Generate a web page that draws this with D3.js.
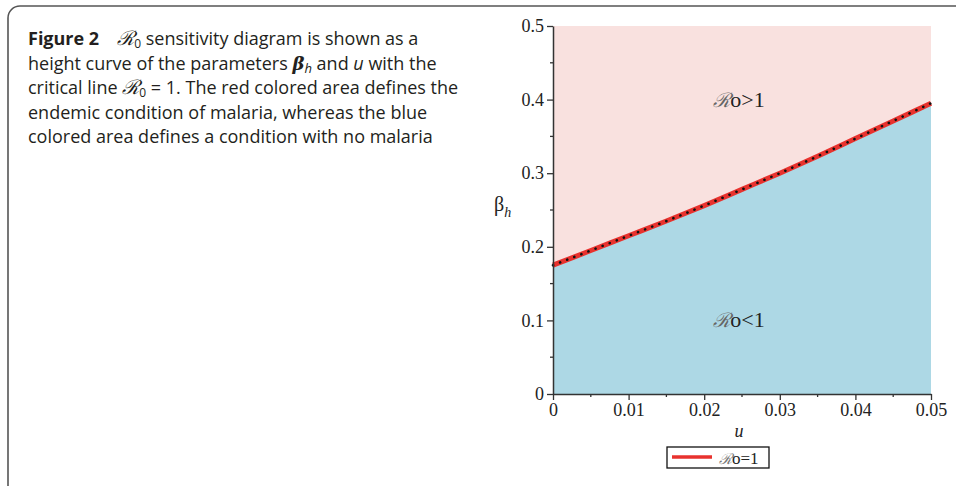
<!DOCTYPE html>
<html>
<head>
<meta charset="utf-8">
<script src="https://cdn.jsdelivr.net/npm/d3@7"></script>
<style>
  html, body { margin: 0; padding: 0; background: #fff; }
  svg { display: block; }
</style>
</head>
<body>
<svg id="fig" width="956" height="486"></svg>
<script>
// Critical curve R0 = 1: beta_h as a function of u
const uValues    = [0, 0.005, 0.01, 0.015, 0.02, 0.025, 0.03, 0.035, 0.04, 0.045, 0.05];
const betaValues = [0.175, 0.195, 0.215, 0.235, 0.256, 0.278, 0.300, 0.323, 0.347, 0.371, 0.395];
const xTicks = [0, 0.01, 0.02, 0.03, 0.04, 0.05];
const yTicks = [0, 0.1, 0.2, 0.3, 0.4, 0.5];
const xMinor = [0.005, 0.015, 0.025, 0.035, 0.045];
const yMinor = [0.05, 0.15, 0.25, 0.35, 0.45];

const svg = d3.select("#fig");
const curve = uValues.map((u, i) => ({ u, b: betaValues[i] }));

// Figure frame (rounded box, open at right/bottom edges)
svg.append("rect")
  .attr("x", 8).attr("y", 6).attr("width", 990).attr("height", 520)
  .attr("rx", 12)
  .attr("fill", "none").attr("stroke", "#555").attr("stroke-width", 1.6);

// Caption
const scriptFont = "'DejaVu Serif', serif";
const cap = svg.append("text")
  .attr("font-family", "'Open Sans', sans-serif")
  .attr("font-size", 18).attr("fill", "#231f20");
const lines = [
  [["Figure 2", {"font-weight": "bold"}], ["\u2003", {}], ["\u211B", {"font-family": scriptFont, "font-style": "italic", "font-size": 20}], ["0", {"font-size": 12, "dy": 3}], [" sensitivity diagram is shown as a", {"dy": -3}]],
  [["height curve of the parameters ", {}], ["\u03B2", {"font-weight": "bold", "font-style": "italic", "font-family": scriptFont}], ["h", {"font-size": 13, "font-style": "italic", "dy": 3}], [" and ", {"dy": -3}], ["u", {"font-style": "italic"}], [" with the", {}]],
  [["critical line ", {}], ["\u211B", {"font-family": scriptFont, "font-style": "italic", "font-size": 20}], ["0", {"font-size": 12, "dy": 3}], [" = 1. The red colored area defines the", {"dy": -3}]],
  [["endemic condition of malaria, whereas the blue", {}]],
  [["colored area defines a condition with no malaria", {}]]
];
lines.forEach((parts, li) => {
  parts.forEach(([txt, attrs], pi) => {
    const t = cap.append("tspan").text(txt);
    if (pi === 0) t.attr("x", 28).attr("y", 45 + li * 24.6);
    Object.entries(attrs).forEach(([k, v]) => t.attr(k, v));
  });
});

// Plot scales
const x = d3.scaleLinear().domain([0, 0.05]).range([553, 931]);
const y = d3.scaleLinear().domain([0, 0.5]).range([394, 26]);

// Region above the critical line (R0 > 1)
svg.append("rect")
  .attr("x", x(0)).attr("y", y(0.5))
  .attr("width", x(0.05) - x(0)).attr("height", y(0) - y(0.5))
  .attr("fill", "#f9e1df");

// Region below the critical line (R0 < 1)
const area = d3.area().x(d => x(d.u)).y0(y(0)).y1(d => y(d.b)).curve(d3.curveMonotoneX);
svg.append("path").datum(curve).attr("d", area).attr("fill", "#add8e5");

// Critical line: red with black dotted overlay
const line = d3.line().x(d => x(d.u)).y(d => y(d.b)).curve(d3.curveMonotoneX);
svg.append("path").datum(curve).attr("d", line)
  .attr("fill", "none").attr("stroke", "#e8322e").attr("stroke-width", 5);
svg.append("path").datum(curve).attr("d", line)
  .attr("fill", "none").attr("stroke", "#111").attr("stroke-width", 2.6)
  .attr("stroke-linecap", "round").attr("stroke-dasharray", "0.1,7.5");

// Axes
const axisColor = "#333";
const tickFont = "'Liberation Serif', 'Times New Roman', serif";

const yAxis = svg.append("g").attr("transform", `translate(${x(0)},0)`)
  .call(d3.axisLeft(y).tickValues(yTicks).tickFormat(d => d === 0 ? "0" : d3.format(".1f")(d)).tickSize(6).tickSizeOuter(0).tickPadding(3));
yAxis.append("g").selectAll("line").data(yMinor).join("line")
  .attr("x1", 0).attr("x2", -3).attr("y1", d => y(d)).attr("y2", d => y(d));

const xAxis = svg.append("g").attr("transform", `translate(0,${y(0)})`)
  .call(d3.axisBottom(x).tickValues(xTicks).tickFormat(d => d === 0 ? "0" : d3.format(".2f")(d)).tickSize(6).tickSizeOuter(0).tickPadding(3));
xAxis.append("g").selectAll("line").data(xMinor).join("line")
  .attr("y1", 0).attr("y2", 3).attr("x1", d => x(d)).attr("x2", d => x(d));

[xAxis, yAxis].forEach(g => {
  g.attr("font-family", tickFont).attr("font-size", 18);
  g.selectAll("path.domain").attr("stroke", axisColor).attr("stroke-width", 1.5);
  g.selectAll("line").attr("stroke", axisColor).attr("stroke-width", 1.3);
  g.selectAll("text").attr("fill", "#222");
});

// Axis titles
svg.append("text").attr("x", 739).attr("y", 437)
  .attr("text-anchor", "middle").attr("font-family", tickFont)
  .attr("font-style", "italic").attr("font-size", 18).attr("fill", "#222").text("u");
const yl = svg.append("text").attr("x", 494).attr("y", 211)
  .attr("font-family", tickFont).attr("font-size", 20).attr("fill", "#222");
yl.append("tspan").text("\u03B2");
yl.append("tspan").attr("font-size", 14).attr("font-style", "italic").attr("dy", 6).text("h");

// Region labels
const regionLabel = (ux, by, txt) => {
  const t = svg.append("text").attr("x", x(ux)).attr("y", y(by))
    .attr("font-family", tickFont).attr("font-size", 22).attr("fill", "#222");
  t.append("tspan").attr("font-family", scriptFont).attr("font-style", "italic")
    .attr("fill", "#666").attr("font-size", 20).text("\u211B");
  t.append("tspan").text(txt);
};
regionLabel(0.0212, 0.390, "o>1");
regionLabel(0.0212, 0.091, "o<1");

// Legend
const lg = svg.append("g");
lg.append("rect").attr("x", 667).attr("y", 447).attr("width", 102).attr("height", 21)
  .attr("fill", "#fff").attr("stroke", "#111").attr("stroke-width", 1.3);
lg.append("line").attr("x1", 672).attr("x2", 712).attr("y1", 457).attr("y2", 457)
  .attr("stroke", "#e8322e").attr("stroke-width", 3.5);
const lt = lg.append("text").attr("x", 719).attr("y", 464)
  .attr("font-family", tickFont).attr("font-size", 17).attr("fill", "#222");
lt.append("tspan").attr("font-family", scriptFont).attr("font-style", "italic")
  .attr("fill", "#777").attr("font-size", 15).text("\u211B");
lt.append("tspan").text("o=1");
</script>
</body>
</html>
